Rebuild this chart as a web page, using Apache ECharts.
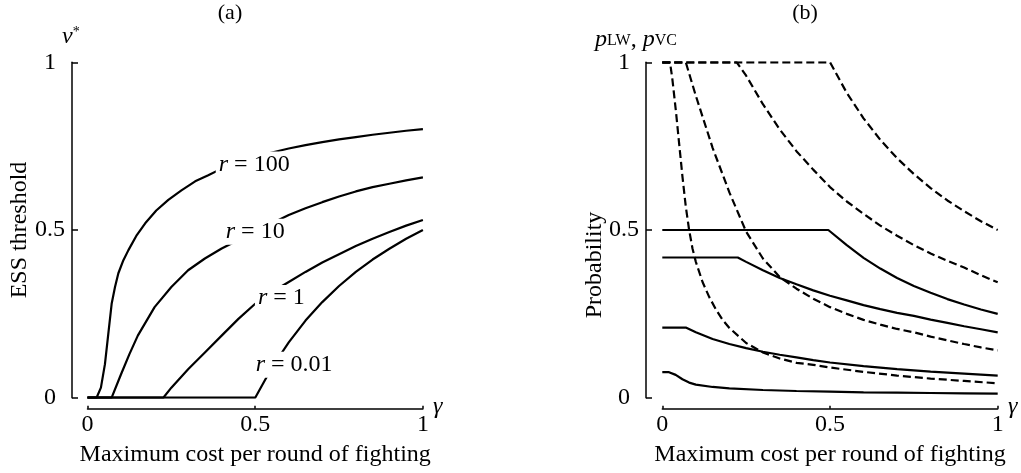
<!DOCTYPE html>
<html>
<head>
<meta charset="utf-8">
<script src="https://cdn.jsdelivr.net/npm/echarts@6/dist/echarts.min.js"></script>
<style>
    html, body { margin: 0; padding: 0; background: #fff; }
    #chart { width: 1021px; height: 473px; }
</style>
</head>
<body>
<div id="chart"></div>
<script>
    // (a) ESS threshold v* against gamma, one curve per r
    const r100 = [[0,0],[0.027,0],[0.04,0.03],[0.052,0.10],[0.062,0.19],[0.072,0.28],[0.082,0.33],[0.092,0.371],[0.107,0.41],[0.122,0.44],[0.147,0.485],[0.172,0.52],[0.205,0.558],[0.241,0.59],[0.28,0.618],[0.321,0.645],[0.36,0.663],[0.4,0.683],[0.45,0.703],[0.5,0.718],[0.55,0.731],[0.6,0.743],[0.65,0.753],[0.7,0.762],[0.75,0.77],[0.8,0.777],[0.85,0.784],[0.9,0.79],[0.95,0.796],[1,0.801]];
    const r10 = [[0,0],[0.072,0],[0.1,0.07],[0.125,0.13],[0.15,0.185],[0.2,0.27],[0.25,0.33],[0.3,0.38],[0.35,0.415],[0.4,0.445],[0.45,0.47],[0.5,0.495],[0.55,0.52],[0.6,0.545],[0.65,0.565],[0.7,0.583],[0.75,0.6],[0.8,0.615],[0.85,0.628],[0.9,0.638],[0.95,0.648],[1,0.657]];
    const r1 = [[0,0],[0.226,0],[0.25,0.03],[0.3,0.085],[0.35,0.135],[0.4,0.185],[0.45,0.235],[0.5,0.28],[0.55,0.315],[0.6,0.345],[0.65,0.375],[0.7,0.403],[0.75,0.428],[0.8,0.452],[0.85,0.474],[0.9,0.494],[0.95,0.513],[1,0.53]];
    const r001 = [[0,0],[0.5,0],[0.55,0.09],[0.6,0.165],[0.65,0.23],[0.7,0.285],[0.75,0.333],[0.8,0.375],[0.85,0.412],[0.9,0.444],[0.95,0.474],[1,0.5]];
    // where the "r = ..." labels sit, in data units
    const curveLabels = [[0.497,0.695,'100'],[0.50,0.495,'10'],[0.578,0.297,'1'],[0.616,0.098,'0.01']];

    // (b) probabilities: solid = pLW, dashed = pVC
    const pLW1 = [[0,0.5],[0.495,0.5],[0.55,0.455],[0.6,0.417],[0.65,0.385],[0.7,0.357],[0.75,0.333],[0.8,0.313],[0.85,0.294],[0.9,0.278],[0.95,0.263],[1,0.25]];
    const pLW2 = [[0,0.418],[0.225,0.418],[0.25,0.405],[0.3,0.38],[0.35,0.357],[0.4,0.338],[0.45,0.32],[0.5,0.304],[0.55,0.29],[0.6,0.276],[0.65,0.264],[0.7,0.253],[0.75,0.244],[0.8,0.233],[0.85,0.223],[0.9,0.213],[0.95,0.204],[1,0.195]];
    const pLW3 = [[0,0.209],[0.07,0.209],[0.1,0.195],[0.15,0.175],[0.2,0.16],[0.25,0.148],[0.3,0.137],[0.35,0.128],[0.4,0.12],[0.45,0.112],[0.5,0.105],[0.6,0.094],[0.7,0.085],[0.8,0.078],[0.9,0.072],[1,0.066]];
    const pLW4 = [[0,0.076],[0.02,0.076],[0.04,0.068],[0.06,0.055],[0.08,0.045],[0.1,0.039],[0.15,0.032],[0.2,0.028],[0.3,0.023],[0.4,0.02],[0.5,0.018],[0.6,0.016],[0.7,0.015],[0.8,0.014],[0.9,0.013],[1,0.012]];
    const pVC1 = [[0,1],[0.5,1],[0.55,0.909],[0.6,0.833],[0.65,0.769],[0.7,0.714],[0.75,0.667],[0.8,0.625],[0.85,0.588],[0.9,0.556],[0.95,0.526],[1,0.5]];
    const pVC2 = [[0,1],[0.222,1],[0.25,0.96],[0.3,0.875],[0.35,0.8],[0.4,0.735],[0.45,0.68],[0.5,0.628],[0.55,0.585],[0.6,0.548],[0.65,0.513],[0.7,0.483],[0.75,0.455],[0.8,0.43],[0.85,0.408],[0.9,0.388],[0.95,0.365],[1,0.344]];
    const pVC3 = [[0,1],[0.07,1],[0.1,0.9],[0.15,0.745],[0.2,0.612],[0.25,0.495],[0.3,0.415],[0.35,0.36],[0.4,0.325],[0.45,0.295],[0.5,0.27],[0.55,0.25],[0.6,0.232],[0.65,0.218],[0.7,0.205],[0.75,0.195],[0.8,0.182],[0.85,0.171],[0.9,0.16],[0.95,0.15],[1,0.141]];
    const pVC4 = [[0,1],[0.023,1],[0.03,0.95],[0.04,0.86],[0.05,0.76],[0.06,0.66],[0.07,0.57],[0.08,0.5],[0.09,0.445],[0.1,0.405],[0.12,0.345],[0.14,0.3],[0.16,0.263],[0.18,0.232],[0.2,0.208],[0.25,0.163],[0.3,0.135],[0.35,0.117],[0.4,0.104],[0.45,0.098],[0.5,0.09],[0.6,0.077],[0.7,0.066],[0.8,0.057],[0.9,0.05],[1,0.043]];

    const serif = '"Liberation Serif", "DejaVu Serif", serif';
    const black = '#000';

    let xAxisOf = (i) => ({
        gridIndex: i,
        type: 'value',
        min: 0,
        max: 1,
        interval: 0.5,
        offset: 11,
        axisLine: { show: true, onZero: false, lineStyle: { color: black, width: 1.5 } },
        axisTick: { show: true, inside: true, length: 3, lineStyle: { color: black, width: 1.5 } },
        axisLabel: { color: black, fontFamily: serif, fontSize: 24, margin: 4 },
        splitLine: { show: false },
        name: 'Maximum cost per round of fighting',
        nameLocation: 'middle',
        nameGap: 34,
        nameTextStyle: { color: black, fontFamily: serif, fontSize: 24 }
    });
    let yAxisOf = (i, off) => ({
        gridIndex: i,
        type: 'value',
        min: 0,
        max: 1,
        interval: 0.5,
        offset: off,
        axisLine: { show: true, onZero: false, lineStyle: { color: black, width: 1.5 } },
        axisTick: { show: true, inside: true, length: 6, lineStyle: { color: black, width: 1.5 } },
        axisLabel: { color: black, fontFamily: serif, fontSize: 24, align: 'center', margin: 22 },
        splitLine: { show: false }
    });
    let curve = (data, axis, dashed) => ({
        type: 'line',
        xAxisIndex: axis,
        yAxisIndex: axis,
        data: data,
        showSymbol: false,
        symbol: 'none',
        lineStyle: { color: black, width: 2.2, type: dashed ? [8, 4] : 'solid' },
        z: 2
    });
    let text = (x, y, str, size, extra) => Object.assign({
        type: 'text',
        x: x,
        y: y,
        z: 10,
        style: {
            text: str,
            fill: black,
            fontFamily: serif,
            fontSize: size,
            align: 'center',
            verticalAlign: 'middle'
        }
    }, extra || {});

    let chart = echarts.init(document.getElementById('chart'), null, { renderer: 'canvas' });
    chart.setOption({
        backgroundColor: '#fff',
        animation: false,
        grid: [
            { left: 87.5, top: 62.3, width: 335.4, height: 335.4 },
            { left: 662.3, top: 62.3, width: 335.4, height: 335.4 }
        ],
        xAxis: [xAxisOf(0), xAxisOf(1)],
        yAxis: [yAxisOf(0, 15.5), yAxisOf(1, 16.3)],
        series: [
            curve(r100, 0), curve(r10, 0), curve(r1, 0), curve(r001, 0),
            {
                type: 'scatter',
                xAxisIndex: 0,
                yAxisIndex: 0,
                data: curveLabels,
                symbolSize: 1,
                itemStyle: { color: '#fff', opacity: 1 },
                z: 5,
                emphasis: { disabled: true },
                label: {
                    show: true,
                    position: 'inside',
                    formatter: (p) => '{i|r} = ' + p.data[2],
                    color: black,
                    opacity: 1,
                    fontFamily: serif,
                    fontSize: 24,
                    backgroundColor: '#fff',
                    padding: [1, 3],
                    rich: { i: { fontStyle: 'italic', fontFamily: serif, fontSize: 24, color: black } }
                }
            },
            curve(pLW1, 1), curve(pLW2, 1), curve(pLW3, 1), curve(pLW4, 1),
            curve(pVC1, 1, true), curve(pVC2, 1, true), curve(pVC3, 1, true), curve(pVC4, 1, true)
        ],
        graphic: [
            text(230, 13, '(a)', 22),
            text(805, 13, '(b)', 22),
            text(19.5, 230, 'ESS threshold', 24, { rotation: Math.PI / 2 }),
            text(595, 265, 'Probability', 24, { rotation: Math.PI / 2 }),
            {
                type: 'text', x: 62, y: 37, z: 10,
                style: {
                    text: '{i|v}{s|*}',
                    align: 'left', verticalAlign: 'middle',
                    rich: {
                        i: { fontStyle: 'italic', fontFamily: serif, fontSize: 24, color: black },
                        s: { fontFamily: serif, fontSize: 14, color: black, verticalAlign: 'top' }
                    }
                }
            },
            {
                type: 'text', x: 595, y: 40, z: 10,
                style: {
                    text: '{i|p}{s|LW}{n|, }{i|p}{s|VC}',
                    align: 'left', verticalAlign: 'middle',
                    rich: {
                        i: { fontStyle: 'italic', fontFamily: serif, fontSize: 24, color: black },
                        s: { fontFamily: serif, fontSize: 16, color: black, verticalAlign: 'bottom', padding: [0, 0, 3, 0] },
                        n: { fontFamily: serif, fontSize: 24, color: black }
                    }
                }
            },
            text(433, 407, 'γ', 24, { style: { text: 'γ', fill: black, fontFamily: serif, fontSize: 24, fontStyle: 'italic', align: 'left', verticalAlign: 'middle' } }),
            text(1008, 407, 'γ', 24, { style: { text: 'γ', fill: black, fontFamily: serif, fontSize: 24, fontStyle: 'italic', align: 'left', verticalAlign: 'middle' } })
        ]
    });
</script>
</body>
</html>
